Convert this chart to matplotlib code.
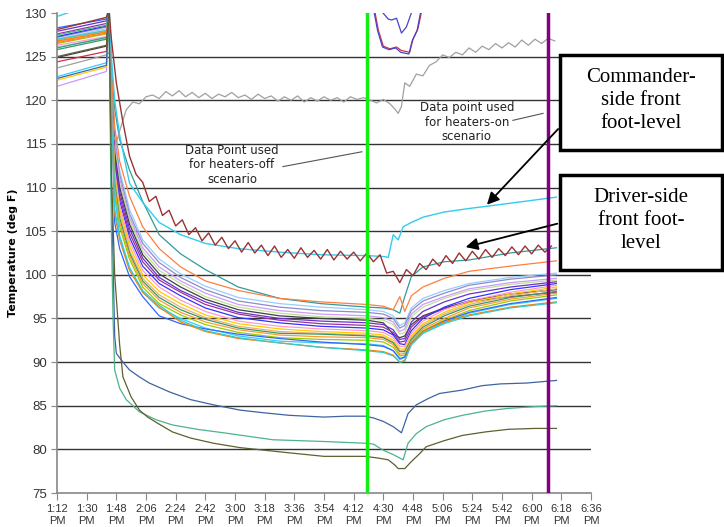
import matplotlib
matplotlib.use('Agg')
import matplotlib.pyplot as plt
from matplotlib.patches import Rectangle

# minutes after 1:12 PM
tick_min = list(range(0, 325, 18))
tick_labels = ["1:12\nPM", "1:30\nPM", "1:48\nPM", "2:06\nPM", "2:24\nPM", "2:42\nPM",
               "3:00\nPM", "3:18\nPM", "3:36\nPM", "3:54\nPM", "4:12\nPM", "4:30\nPM",
               "4:48\nPM", "5:06\nPM", "5:24\nPM", "5:42\nPM", "6:00\nPM", "6:18\nPM", "6:36\nPM"]

t_main = [0, 30, 31.5, 33, 35, 38, 44, 52, 62, 75, 90, 110, 135, 160, 188,
          198, 204, 208, 211, 215, 222, 235, 250, 275, 303]

light_blue = [127.0, 128.2, 130.5, 123, 116, 112, 107.5, 104.0, 101.8, 100.1, 98.7, 97.4, 96.7, 96.3, 96.0, 95.8, 95.3, 94.2, 94.5, 96.2, 97.3, 98.2, 99.0, 99.7, 100.2]
slate = [127.2, 128.4, 130.5, 122.8, 115.5, 111.5, 107.0, 103.6, 101.4, 99.7, 98.3, 97.0, 96.3, 95.9, 95.7, 95.5, 95.0, 93.9, 94.2, 95.9, 97.0, 97.9, 98.8, 99.5, 100.0]
lavender = [121.6, 123.3, 130.5, 122.6, 115.0, 111.0, 106.6, 103.1, 100.9, 99.3, 97.9, 96.6, 95.9, 95.5, 95.3, 95.1, 94.6, 93.5, 93.8, 95.5, 96.6, 97.5, 98.4, 99.1, 99.6]
pale_green = [126.1, 127.1, 130.5, 122.4, 114.5, 110.5, 106.2, 102.7, 100.5, 99.0, 97.5, 96.3, 95.6, 95.2, 95.0, 94.8, 94.3, 93.2, 93.4, 95.2, 96.3, 97.3, 98.2, 98.9, 99.4]
dark_gray = [124.9, 126.2, 130.5, 122.2, 114.0, 110.0, 105.8, 102.3, 100.1, 98.6, 97.2, 96.0, 95.3, 95.0, 94.8, 94.5, 93.2, 92.8, 93.0, 94.3, 95.3, 96.2, 97.0, 97.8, 98.3]
violet = [127.9, 129.1, 130.5, 122.0, 113.5, 109.5, 105.3, 101.9, 99.7, 98.2, 96.9, 95.7, 95.0, 94.7, 94.5, 94.3, 93.7, 92.6, 92.7, 94.6, 95.8, 96.9, 97.8, 98.6, 99.2]
purple = [127.6, 128.8, 130.5, 121.8, 113.0, 109.0, 104.8, 101.5, 99.4, 98.0, 96.6, 95.5, 94.8, 94.4, 94.2, 94.0, 93.4, 92.3, 92.4, 94.0, 95.2, 96.1, 96.9, 97.5, 98.0]
blue = [127.3, 128.5, 130.5, 121.6, 112.5, 108.5, 104.3, 101.0, 99.0, 97.6, 96.2, 95.1, 94.5, 94.1, 93.9, 93.7, 93.1, 92.1, 92.0, 93.6, 95.0, 96.3, 97.3, 98.3, 99.0]
pink = [126.3, 127.3, 130.5, 121.4, 112.0, 108.0, 103.8, 100.5, 98.6, 97.1, 95.8, 94.7, 94.1, 93.8, 93.6, 93.4, 92.8, 91.8, 91.8, 93.3, 94.7, 96.0, 97.0, 98.0, 98.8]
gold = [122.3, 123.8, 130.5, 121.2, 111.5, 107.5, 103.3, 100.0, 98.1, 96.7, 95.4, 94.4, 93.8, 93.5, 93.3, 93.1, 92.5, 91.5, 91.5, 93.0, 94.4, 95.7, 96.8, 97.8, 98.6]
tan = [126.9, 128.0, 130.5, 121.0, 111.0, 107.0, 102.8, 99.6, 97.7, 96.3, 95.1, 94.1, 93.5, 93.3, 93.1, 92.9, 92.3, 91.3, 91.3, 92.8, 94.2, 95.5, 96.6, 97.6, 98.4]
green = [125.8, 127.0, 130.5, 120.8, 110.5, 106.5, 102.5, 99.3, 97.4, 96.0, 94.9, 93.9, 93.3, 93.2, 93.0, 92.8, 92.2, 91.2, 91.2, 92.6, 94.0, 95.3, 96.4, 97.4, 98.1]
orange = [126.7, 127.9, 130.5, 120.6, 110.0, 106.0, 102.2, 99.0, 97.1, 95.7, 94.6, 93.7, 93.1, 92.9, 92.8, 92.6, 92.0, 90.9, 91.0, 92.4, 93.8, 95.0, 96.2, 97.2, 97.9]
yellow_green = [126.5, 127.6, 130.5, 120.4, 109.5, 105.5, 101.8, 98.6, 96.7, 95.4, 94.3, 93.4, 92.8, 92.6, 92.5, 92.3, 91.7, 90.7, 90.8, 92.2, 93.6, 94.8, 95.9, 97.0, 97.7]
sky = [122.7, 124.3, 130.5, 120.2, 109.0, 104.5, 100.8, 98.0, 96.2, 95.0, 93.9, 93.0, 92.4, 92.2, 92.1, 91.9, 91.3, 90.3, 90.5, 92.0, 93.3, 94.5, 95.6, 96.6, 97.3]
low_blue = [128.3, 129.3, 130.5, 120.0, 106.0, 103.0, 99.8, 97.5, 95.3, 94.4, 93.8, 93.2, 92.7, 92.3, 92.0, 91.8, 91.3, 90.4, 90.6, 92.2, 93.5, 94.7, 95.7, 96.7, 97.4]
low_orange = [126.8, 127.8, 130.5, 120.0, 107.0, 104.0, 100.5, 98.0, 96.3, 94.6, 93.5, 92.7, 92.2, 91.7, 91.4, 91.2, 90.8, 90.0, 90.2, 92.2, 93.5, 94.6, 95.4, 96.3, 96.9]
low_cyan = [127.0, 128.0, 130.5, 120.0, 107.5, 104.3, 100.8, 98.2, 96.5, 94.8, 93.6, 92.8, 92.2, 91.7, 91.3, 91.1, 90.7, 90.0, 90.1, 92.0, 93.3, 94.4, 95.3, 96.2, 96.8]
upper_teal = [126.0, 127.2, 130.5, 124.0, 119.0, 115.5, 112.0, 108.4, 104.6, 102.4, 100.6, 98.6, 97.3, 96.7, 96.3, 96.2, 96.0, 95.6, 97.5, 99.8, 100.9, 101.5, 101.7, 102.5, 103.1]
upper_orange = [126.6, 127.7, 130.5, 123.5, 117.0, 113.0, 109.0, 105.5, 103.0, 100.9, 99.3, 98.2, 97.3, 96.9, 96.6, 96.4, 96.0, 97.5, 95.8, 97.6, 98.6, 99.6, 100.4, 101.0, 101.6]

bundle = [
    (light_blue, '#99CCFF'), (slate, '#8C8CC8'), (lavender, '#CC99FF'), (pale_green, '#C0E090'),
    (dark_gray, '#404040'), (violet, '#6633CC'), (purple, '#993399'), (blue, '#3333FF'),
    (pink, '#FF99CC'), (gold, '#FFCC00'), (tan, '#E8B070'), (green, '#339966'),
    (orange, '#FF9933'), (yellow_green, '#99CC00'), (sky, '#33CCFF'), (low_blue, '#3366FF'),
    (low_orange, '#FF8000'), (low_cyan, '#33CCCC'), (upper_teal, '#339999'), (upper_orange, '#FF7F3F'),
]

# commander-side front foot-level (cyan)
cmd_t = [0, 11, 30, 31.5, 33, 35, 38, 44, 52, 62, 75, 90, 110, 135, 160, 188, 198, 201,
         204, 207, 210, 215, 222, 235, 250, 275, 303]
cmd_v = [129.6, 130.3, 131.5, 131.5, 125.0, 120.0, 116.0, 110.5, 108.3, 106.0, 104.6, 103.6,
         103.0, 102.6, 102.3, 102.2, 102.1, 102.0, 104.6, 104.0, 105.5, 106.0, 106.6, 107.2,
         107.6, 108.2, 108.9]

# driver-side front foot-level (maroon, noisy)
drv_t = [0, 30, 31.5, 33] + list(range(36, 304, 4))
drv_v = [128.1, 129.5, 130.5, 127.0,
         122.0, 117.5, 113.6, 111.5, 110.6, 108.4, 109.0, 106.8, 107.4, 105.6,
         106.3, 104.6, 105.4, 103.9, 104.8, 103.4, 104.3, 103.0, 103.9, 102.6,
         103.7, 102.5, 103.4, 102.2, 103.3, 102.0, 102.9, 101.9, 103.1, 102.0,
         102.8, 101.8, 102.9, 101.7, 102.7, 101.8, 102.6, 101.6, 102.5, 101.5,
         102.3, 100.2, 100.4, 99.1, 100.6, 99.9, 101.3, 100.6, 101.8, 101.0,
         102.2, 101.3, 102.5, 101.6, 102.7, 101.8, 102.9, 102.0, 103.0, 102.2,
         103.2, 102.3, 103.3, 102.4, 103.4, 102.6, 103.3]

# heaters-on reference (gray)
ref_t = [0, 30, 32, 34, 36, 38, 42, 46, 50, 54, 58, 62, 66, 70, 74, 78, 82, 86, 90, 94, 98,
         102, 106, 110, 114, 118, 122, 126, 130, 134, 138, 142, 146, 150, 154, 158, 162, 166,
         170, 174, 178, 182, 186, 190, 194, 198, 202, 205, 207, 209, 211, 214, 218, 222, 226,
         230, 234, 238, 242, 246, 250, 254, 258, 262, 266, 270, 274, 278, 282, 286, 290, 294,
         298, 302]
ref_v = [123.7, 125.2, 125.5, 116.0, 115.1, 116.5, 118.9, 119.8, 119.6, 120.4, 120.6, 120.2,
         121.0, 120.5, 121.1, 120.4, 120.9, 120.3, 120.8, 120.2, 120.7, 120.4, 120.9, 120.3,
         120.6, 120.1, 120.7, 120.2, 120.5, 119.9, 120.4, 120.0, 120.5, 119.8, 120.3, 119.9,
         120.4, 120.0, 120.3, 119.8, 120.4, 120.1, 120.3, 120.0, 119.7, 120.1, 119.6, 119.0,
         118.5, 119.3, 122.0, 121.6, 123.0, 122.8, 124.0, 124.4, 125.2, 124.9, 125.5, 125.2,
         126.0, 125.5, 126.2, 125.8, 126.5, 126.0, 126.6, 126.1, 126.9, 126.3, 127.0, 126.5,
         127.1, 126.8]

# lines that run above the axis top and dip in briefly
u_red_t = [0, 30, 31.5, 190, 193, 195, 198, 202, 206, 209, 214, 216, 219, 221, 224]
u_red_v = [124.4, 125.6, 133, 133, 130.0, 128.0, 126.2, 125.9, 126.1, 125.7, 125.5, 127.0, 128.2, 130.0, 133]
u_blue_t = [185, 192.5, 194.5, 197.5, 201.5, 205.5, 208.5, 213.5, 215.5, 218.5, 220.5, 224]
u_blue_v = [133, 130.0, 128.0, 126.1, 125.8, 126.0, 125.5, 125.3, 126.8, 128.0, 130.0, 133]
u_inner_t = [195, 197.8, 201, 203, 206, 209, 212, 215, 217]
u_inner_v = [132, 130.0, 129.3, 129.2, 129.4, 127.7, 128.4, 130.0, 132]

# three cooler locations
steel_t = [0, 30, 31.5, 33, 35, 36, 40, 44, 50, 56, 68, 81, 95, 111, 125, 141, 162, 175, 187,
           192, 198, 204, 209, 213, 218, 225, 232, 246, 258, 269, 285, 303]
steel_v = [122.5, 124.0, 130.5, 110.0, 93.0, 91.0, 90.0, 89.1, 88.3, 87.6, 86.6, 85.7, 85.1,
           84.5, 84.2, 83.9, 83.7, 83.8, 83.8, 83.6, 83.2, 82.6, 81.9, 84.1, 85.1, 85.8, 86.4,
           86.8, 87.3, 87.5, 87.6, 87.9]
sea_t = [0, 30, 31.5, 33, 34, 35, 38, 42, 50, 60, 70, 85, 101, 131, 162, 187, 192, 198, 204,
         210, 213, 218, 224, 235, 246, 260, 274, 290, 303]
sea_v = [127.5, 128.6, 130.5, 105.0, 95.0, 89.1, 87.0, 85.7, 84.3, 83.4, 82.8, 82.3, 81.9, 81.1,
         80.9, 80.7, 80.6, 79.9, 79.4, 78.8, 80.7, 81.8, 82.6, 83.4, 83.9, 84.4, 84.7, 84.9, 85.0]
olive_t = [0, 30, 31.5, 33, 35, 38, 40, 45, 50, 55, 61, 70, 81, 95, 111, 126, 141, 162, 187,
           195, 201, 205, 207, 211, 215, 220, 224, 235, 246, 260, 274, 290, 303]
olive_v = [125.0, 126.3, 130.5, 112.0, 100.0, 92.0, 88.3, 86.0, 84.5, 83.7, 83.0, 82.0, 81.3,
           80.7, 80.2, 79.9, 79.6, 79.2, 79.2, 79.0, 78.8, 78.2, 77.8, 77.8, 78.6, 79.5, 80.3,
           81.0, 81.6, 82.0, 82.3, 82.4, 82.4]

heaters_off_t = 188
heaters_on_t = 298

fig = plt.figure(figsize=(7.24, 5.27), dpi=100)
ax = fig.add_axes([57 / 724, 1 - 493 / 527, (591 - 57) / 724, (493 - 13) / 527])

for y in range(80, 130, 5):
    ax.axhline(y, color='#333333', lw=1.0, zorder=1)

for vals, col in bundle:
    ax.plot(t_main, vals, color=col, lw=0.9, zorder=2)
ax.plot(u_red_t, u_red_v, color='#CC3344', lw=0.9, zorder=2)
ax.plot(u_blue_t, u_blue_v, color='#4444CC', lw=0.9, zorder=2)
ax.plot(u_inner_t, u_inner_v, color='#4444CC', lw=0.9, zorder=2)
ax.plot(ref_t, ref_v, color='#A0A0A0', lw=0.9, zorder=2)
ax.plot(steel_t, steel_v, color='#3E64A0', lw=0.9, zorder=2)
ax.plot(sea_t, sea_v, color='#4DB38A', lw=0.9, zorder=2)
ax.plot(olive_t, olive_v, color='#5F5F32', lw=0.9, zorder=2)
ax.plot(cmd_t, cmd_v, color='#33CCEE', lw=1.0, zorder=3)
ax.plot(drv_t, drv_v, color='#993333', lw=1.0, zorder=3)

ax.axvline(heaters_off_t, color='#11EE11', lw=2.5, zorder=4)
ax.axvline(heaters_on_t, color='#800080', lw=2.5, zorder=4)

ax.set_xlim(0, 324)
ax.set_ylim(75, 130)
ax.set_xticks(tick_min)
ax.set_xticklabels(tick_labels, fontsize=8, color='#333333', family='Liberation Sans')
ax.set_yticks(range(75, 131, 5))
ax.set_yticklabels([str(v) for v in range(75, 131, 5)], fontsize=9.5, color='#333333',
                   family='Liberation Sans')
ax.tick_params(axis='x', direction='out', length=5, color='#888888', pad=3)
ax.tick_params(axis='y', direction='out', length=4, color='#888888', pad=3)
for s in ['top', 'right']:
    ax.spines[s].set_visible(False)
for s in ['left', 'bottom']:
    ax.spines[s].set_color('#888888')
    ax.spines[s].set_linewidth(1.2)
ax.set_ylabel("Temperature (deg F)", fontsize=8, fontweight='bold')
ax.yaxis.set_label_coords(-0.073, 0.5)

# annotations for the data points
ax.text(106.2, 112.6, "Data Point used\nfor heaters-off\nscenario", ha='center', va='center',
        fontsize=8.5, color='#222222', linespacing=1.15, zorder=5)
ax.plot([137.1, 185.0], [112.4, 114.1], color='#555555', lw=0.8, zorder=5)
ax.text(248.7, 117.5, "Data point used\nfor heaters-on\nscenario", ha='center', va='center',
        fontsize=8.5, color='#222222', linespacing=1.15, zorder=5)
ax.plot([276.6, 294.9], [117.7, 118.5], color='#555555', lw=0.8, zorder=5)


def fx(px):
    return px / 724


def fy(py):
    return 1 - py / 527


for top, bot, txt in [(55, 150, "Commander-\nside front\nfoot-level"),
                      (175, 270, "Driver-side\nfront foot-\nlevel")]:
    fig.add_artist(Rectangle((fx(560), fy(bot)), fx(722) - fx(560), fy(top) - fy(bot),
                             transform=fig.transFigure, fill=True, facecolor='white',
                             edgecolor='black', lw=2.5, zorder=10))
    fig.text(fx(641), fy((top + bot) / 2 - 2), txt, ha='center', va='center',
             family='Liberation Serif', fontsize=15, linespacing=1.3, zorder=11)

ax.annotate("", xy=(259.7, 107.8), xycoords='data', xytext=(fx(560), fy(127)),
            textcoords='figure fraction',
            arrowprops=dict(arrowstyle='-|>', color='black', lw=1.3, mutation_scale=18),
            zorder=12, annotation_clip=False)
ax.annotate("", xy=(246.3, 103.1), xycoords='data', xytext=(fx(560), fy(223)),
            textcoords='figure fraction',
            arrowprops=dict(arrowstyle='-|>', color='black', lw=1.3, mutation_scale=18),
            zorder=12, annotation_clip=False)

fig.savefig('out.png', dpi=100)
